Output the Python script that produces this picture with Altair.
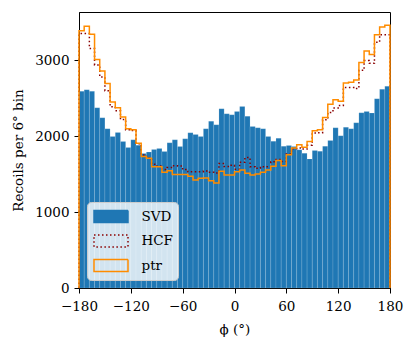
import altair as alt
import pandas as pd

bin_edges = list(range(-180, 181, 6))
y_ticks = [0, 500, 1000, 1500, 2000, 2500, 3000, 3500]
x_ticks = [-180, -120, -60, 0, 60, 120, 180]
series_names = ["SVD", "HCF", "ptr"]
series_colors = ["#1f77b4", "#8b0000", "#ff8c00"]

svd = [2590, 2610, 2590, 2373, 2241, 2096, 1995, 2048, 1929, 1849,
       1951, 1880, 1770, 1790, 1825, 1836, 1798, 1911, 1951, 1863,
       1964, 2043, 2021, 1995, 2096, 2197, 2149, 2360, 2294, 2281,
       2325, 2391, 2263, 2127, 2109, 2096, 1995, 1933, 1973, 1867,
       1876, 1863, 1819, 1775, 1700, 1810, 1801, 1867, 1942, 2109,
       2005, 2118, 2096, 2175, 2307, 2325, 2303, 2492, 2616, 2655]

hcf = [3350, 3350, 3153, 2937, 2778, 2598, 2385, 2335, 2220, 2085,
       2075, 1900, 1750, 1713, 1630, 1605, 1560, 1585, 1610, 1605,
       1560, 1530, 1530, 1530, 1540, 1524, 1515, 1640, 1600, 1615,
       1565, 1656, 1718, 1598, 1577, 1598, 1595, 1663, 1691, 1665,
       1765, 1835, 1845, 1830, 1878, 2040, 2045, 2215, 2312, 2370,
       2404, 2640, 2640, 2627, 2866, 2995, 2958, 3235, 3335, 3335]

ptr = [3386, 3448, 3342, 3008, 2858, 2691, 2448, 2374, 2250, 2096,
       2083, 1907, 1731, 1708, 1598, 1598, 1523, 1545, 1493, 1493,
       1493, 1471, 1423, 1444, 1449, 1413, 1383, 1537, 1489, 1489,
       1530, 1555, 1510, 1489, 1500, 1523, 1555, 1603, 1679, 1610,
       1755, 1843, 1887, 1854, 1930, 2072, 2085, 2246, 2420, 2478,
       2460, 2699, 2708, 2740, 2968, 3120, 3074, 3333, 3435, 3461]

y_max = 1.05 * max(ptr)
FONT = "DejaVu Serif"
FS = 13.5

bars_df = pd.DataFrame({
    "x0": bin_edges[:-1],
    "x1": bin_edges[1:],
    "count": svd,
})


def step_df(vals, name):
    xs = [bin_edges[0]] + bin_edges[:-1] + [bin_edges[-1], bin_edges[-1]]
    ys = [0] + list(vals) + [vals[-1], 0]
    return pd.DataFrame({"x": xs, "y": ys, "order": list(range(len(xs))), "series": name})


xscale = alt.Scale(domain=[-180, 180], nice=False, zero=False)
yscale = alt.Scale(domain=[0, y_max], nice=False)

x_axis = alt.Axis(values=x_ticks, title="ϕ (°)", grid=False, labelOverlap=False,
                  labelFlush=False, tickSize=5, labelPadding=6, titlePadding=10,
                  labelExpr="datum.value < 0 ? '\u2212' + abs(datum.value) : '' + datum.value")
y_axis = alt.Axis(values=y_ticks, title="Recoils per 6° bin", grid=False, format="d",
                  labelOverlap=False, labelFlush=False, tickSize=5, labelPadding=5,
                  titlePadding=9)

legend = alt.Legend(
    title=None,
    orient="bottom-left",
    offset=8,
    padding=5,
    fillColor="rgba(255,255,255,0.8)",
    strokeColor="#cccccc",
    cornerRadius=4,
    symbolType="M-2,-0.7H2V0.7H-2Z",
    symbolSize=289,
    symbolOffset=9.5,
    symbolStrokeWidth=1.5,
    symbolOpacity=1,
    symbolFillColor=alt.ExprRef("datum.value === 'SVD' ? '#1f77b4' : 'transparent'"),
    symbolDash=alt.ExprRef("datum.value === 'HCF' ? [1.5, 2.5] : [1, 0]"),
    labelFont=FONT,
    labelColor="black",
    labelFontSize=FS,
    labelOffset=21,
    rowPadding=5.5,
)

bars = alt.Chart(bars_df).mark_rect(
    color="#1f77b4", stroke="white", strokeOpacity=0.25, strokeWidth=0.5
).encode(
    x=alt.X("x0:Q", scale=xscale, axis=x_axis),
    x2="x1:Q",
    y=alt.Y("count:Q", scale=yscale, axis=y_axis),
    y2=alt.datum(0),
)

hcf_line = alt.Chart(step_df(hcf, "HCF")).mark_line(
    interpolate="step-after", color="#8b0000", strokeWidth=1.5, strokeDash=[1.5, 2.5]
).encode(
    x=alt.X("x:Q", scale=xscale),
    y=alt.Y("y:Q", scale=yscale),
    order="order:Q",
)

ptr_line = alt.Chart(step_df(ptr, "ptr")).mark_line(
    interpolate="step-after", strokeWidth=1.5
).encode(
    x=alt.X("x:Q", scale=xscale),
    y=alt.Y("y:Q", scale=yscale),
    order="order:Q",
    stroke=alt.Stroke("series:N", scale=alt.Scale(domain=series_names, range=series_colors),
                      legend=legend),
)

chart = alt.layer(bars, hcf_line, ptr_line).properties(
    width=311,
    height=276,
    autosize=alt.AutoSizeParams(type="none"),
    padding={"left": 71, "top": 4, "right": 17, "bottom": 50},
).configure(
    font=FONT,
).configure_view(
    stroke="black", strokeWidth=1,
).configure_axis(
    labelFont=FONT,
    titleFont=FONT,
    labelFontSize=FS,
    titleFontSize=FS,
    titleFontWeight="normal",
    labelColor="black",
    titleColor="black",
    domainColor="black",
    tickColor="black",
)

chart.save("out.html", embed_options={"renderer": "svg", "actions": False})
